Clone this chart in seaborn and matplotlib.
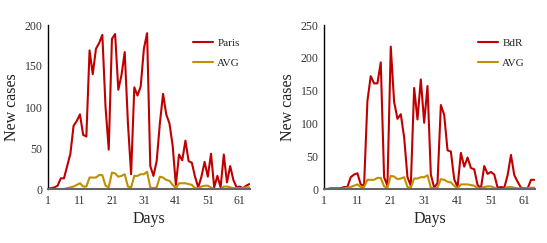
import numpy as np
import pandas as pd
import matplotlib
matplotlib.use("Agg")
import matplotlib.pyplot as plt
import seaborn as sns

days = list(range(1, 65))
paris = [0, 1, 2, 4, 13, 13, 28, 43, 77, 83, 91, 66, 64, 169, 140, 171, 178, 188, 100, 48,
         183, 189, 121, 139, 167, 81, 18, 124, 114, 125, 171, 190, 28, 16, 34, 80, 116, 91, 80, 53,
         5, 42, 35, 59, 34, 32, 15, 2, 15, 33, 15, 43, 2, 16, 2, 42, 8, 28, 11, 2,
         3, 1, 4, 6]
bdr = [0, 0, 1, 1, 1, 1, 3, 3, 18, 22, 24, 7, 5, 134, 172, 161, 161, 193, 18, 5,
       217, 133, 107, 114, 79, 18, 5, 154, 106, 167, 101, 157, 22, 2, 9, 128, 113, 59, 57, 15,
       3, 55, 34, 48, 32, 30, 6, 1, 35, 23, 26, 22, 2, 3, 2, 21, 52, 21, 11, 2,
       1, 1, 14, 14]
avg = [0, 0, 0, 0, 0, 0, 1, 2, 3, 5, 7, 3, 3, 14, 14, 14, 17, 17, 4, 2,
       20, 19, 15, 16, 18, 3, 2, 16, 16, 18, 18, 21, 2, 1, 2, 15, 14, 11, 10, 5,
       1, 7, 7, 7, 6, 5, 1, 1, 3, 4, 4, 2, 0, 0, 0, 3, 3, 2, 1, 1,
       1, 1, 2, 2]

red = "#C00000"
gold = "#BF9000"

sns.set_style("white")
plt.rcParams['font.family'] = ['Liberation Serif', 'DejaVu Serif']

fig = plt.figure(figsize=(5.47, 2.43), dpi=100)
W, H = 547, 243
ax1 = fig.add_axes([48 / W, 1 - 189 / H, (250 - 48) / W, (189 - 25) / H])
ax2 = fig.add_axes([324 / W, 1 - 189 / H, (535 - 324) / W, (189 - 25) / H])

panels = [(ax1, paris, "Paris", 200, [0, 50, 100, 150, 200]),
          (ax2, bdr, "BdR", 250, [0, 50, 100, 150, 200, 250])]

for ax, series, name, ymax, yt in panels:
    df = pd.DataFrame({"Days": days, name: series, "AVG": avg})
    sns.lineplot(data=df, x="Days", y=name, ax=ax, color=red, lw=1.5, label=name)
    sns.lineplot(data=df, x="Days", y="AVG", ax=ax, color=gold, lw=1.5, label="AVG")
    ax.set_xlim(1, 64.2)
    ax.set_ylim(0, ymax)
    ax.set_yticks(yt)
    ax.set_xticks([1, 11, 21, 31, 41, 51, 61])
    ax.tick_params(axis='both', labelsize=8.5, length=0, pad=4, colors="#333333")
    ax.set_xlabel("Days", fontsize=11.5, color="#222222", labelpad=3)
    ax.set_ylabel("New cases", fontsize=11.5, color="#222222", labelpad=3)
    for s in ["top", "right"]:
        ax.spines[s].set_visible(False)
    ax.spines["left"].set_color("black")
    ax.spines["left"].set_linewidth(1.0)
    ax.spines["bottom"].set_color("#666666")
    ax.spines["bottom"].set_linewidth(1.5)
    ax.grid(False)
    leg = ax.legend(loc="upper right", frameon=False, fontsize=8, handlelength=1.8,
                    handletextpad=0.4, labelspacing=0.9, bbox_to_anchor=(1.0, 0.98))
    for t in leg.get_texts():
        t.set_color("#222222")

fig.savefig("out.png", dpi=100)
